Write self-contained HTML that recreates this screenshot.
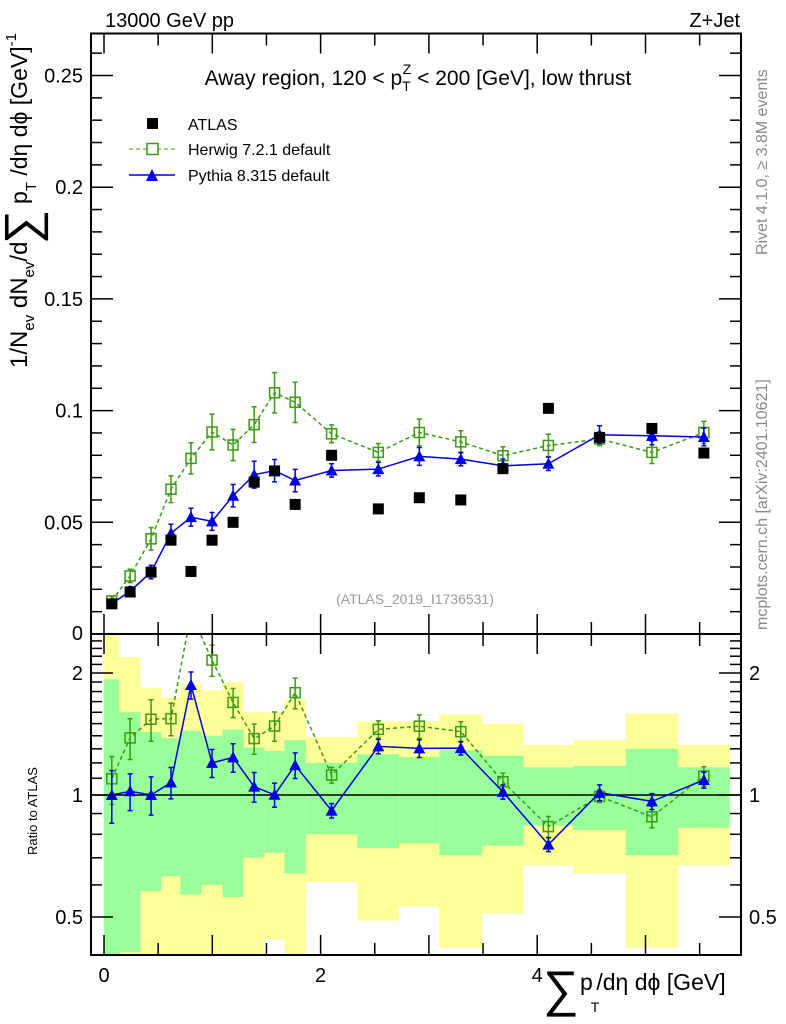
<!DOCTYPE html>
<html><head><meta charset="utf-8"><style>
body{margin:0;background:#fff;}
svg{display:block;font-family:"Liberation Sans",sans-serif;}
</style></head><body>
<svg id="c" width="786" height="1024" viewBox="0 0 786 1024" xmlns="http://www.w3.org/2000/svg">
<g id="bands"></g>
<g id="marks"></g>
<rect x="91" y="33.5" width="650" height="600.5" fill="none" stroke="#000" stroke-width="2"/>
<rect x="91" y="634" width="650" height="321" fill="none" stroke="#000" stroke-width="2"/>
<g id="axes"></g>
<text x="105" y="27" font-size="20">13000 GeV pp</text>
<text x="740" y="27" font-size="20" text-anchor="end">Z+Jet</text>
<text x="418" y="85" font-size="21" text-anchor="middle">Away region, 120 &lt; p<tspan font-size="14" dy="6">T</tspan><tspan font-size="14" dx="-8" dy="-17">Z</tspan><tspan dy="11"> &lt; 200 [GeV], low thrust</tspan></text>
<g>
<rect x="147" y="118" width="11" height="11" fill="#000"/>
<text x="188" y="130" font-size="16">ATLAS</text>
<line x1="129" y1="149" x2="175" y2="149" stroke="#3a9a10" stroke-dasharray="4,3"/>
<rect x="147" y="143.5" width="11" height="11" fill="#fff" stroke="#3a9a10" stroke-width="1.5"/>
<text x="188" y="155" font-size="16">Herwig 7.2.1 default</text>
<line x1="129" y1="175" x2="175" y2="175" stroke="#0000e0" stroke-width="1.5"/>
<polygon points="146,181 158,181 152,169" fill="#0000e0"/>
<text x="188" y="181" font-size="16">Pythia 8.315 default</text>
</g>
<text x="415" y="604" font-size="14" fill="#999" text-anchor="middle">(ATLAS_2019_I1736531)</text>
<text transform="translate(767,255) rotate(-90)" font-size="16" fill="#888">Rivet 4.1.0, ≥ 3.8M events</text>
<text transform="translate(767,630) rotate(-90)" font-size="16" fill="#888">mcplots.cern.ch [arXiv:2401.10621]</text>
<g transform="translate(27,368) rotate(-90)" font-size="24">
<text x="0" y="0">1/N<tspan font-size="15" dy="7">ev</tspan><tspan dy="-7"> dN</tspan><tspan font-size="15" dy="7">ev</tspan><tspan dy="-7">/d</tspan></text>
<text x="124" y="11" font-size="48">∑</text>
<text x="164" y="0" font-size="23">p<tspan font-size="15" dy="9">T</tspan><tspan dy="-9"> /dη dϕ [GeV]</tspan><tspan font-size="15" dy="-11">-1</tspan></text>
</g>
<text transform="translate(37,855) rotate(-90)" font-size="13">Ratio to ATLAS</text>
<text x="543" y="1006" font-size="50">∑</text>
<text x="580" y="990" font-size="23">p<tspan font-size="14" dy="22" dx="-2">T</tspan><tspan dy="-22" dx="-3">/dη dϕ [GeV]</tspan></text>
</svg>
<script>
const binEdges=[0,0.144,0.338,0.531,0.706,0.900,1.095,1.289,1.484,1.666,1.864,2.339,2.727,3.096,3.493,3.874,4.333,4.818,5.300,5.778];
const atlas=[0.0135,0.0188,0.0277,0.042,0.028,0.042,0.050,0.068,0.073,0.058,0.080,0.056,0.061,0.060,0.074,0.101,0.088,0.092,0.081];
const herwig=[0.0148,0.026,0.0426,0.0648,0.0786,0.0904,0.0846,0.0937,0.108,0.1037,0.0896,0.0813,0.0902,0.086,0.0798,0.0844,0.0873,0.0813,0.0902];
const herwigErr=[0.002,0.003,0.005,0.006,0.007,0.008,0.007,0.008,0.009,0.009,0.004,0.004,0.006,0.005,0.004,0.005,0.003,0.005,0.005];
const pythia=[0.0135,0.0192,0.0277,0.0451,0.0523,0.0504,0.0619,0.0713,0.0731,0.0687,0.0732,0.0738,0.0795,0.0783,0.0753,0.0762,0.0892,0.0887,0.0882];
const pythiaErr=[0.002,0.002,0.003,0.004,0.004,0.004,0.005,0.006,0.005,0.005,0.003,0.003,0.004,0.003,0.003,0.003,0.004,0.004,0.004];
const yellowHi=[2.6,2.19,1.84,1.74,1.88,1.81,1.90,1.60,1.60,1.72,1.39,1.52,1.52,1.58,1.50,1.33,1.365,1.59,1.33];
const greenHi=[1.93,1.60,1.43,1.38,1.44,1.40,1.45,1.31,1.285,1.365,1.20,1.26,1.24,1.29,1.25,1.17,1.18,1.30,1.17];
const greenLo=[0.38,0.41,0.579,0.63,0.568,0.60,0.56,0.70,0.72,0.64,0.80,0.74,0.76,0.71,0.75,0.84,0.82,0.71,0.83];
const yellowLo=[0.38,0.38,0.38,0.38,0.38,0.38,0.38,0.38,0.44,0.38,0.61,0.49,0.53,0.42,0.51,0.67,0.64,0.42,0.67];
const mainTicks=["0.05","0.1","0.15","0.2","0.25"];
const xTickLabels=["0","2","4"];
const ratioTickLabels=["0.5","1","2"];

const NS="http://www.w3.org/2000/svg";
const L=91,R=741,T=33.5,M=634,B=955;
const X=v=>104+v*108.3;
const Y=v=>634-v*2234;
const RY=r=>795-122*Math.log2(r);
const clampR=y=>Math.max(M,Math.min(B,y));
function mk(tag,parent,attrs){const e=document.createElementNS(NS,tag);for(const k in attrs)e.setAttribute(k,attrs[k]);parent.appendChild(e);return e;}
const bands=document.getElementById('bands'),marks=document.getElementById('marks'),axes=document.getElementById('axes');
const centers=atlas.map((_,i)=>(binEdges[i]+binEdges[i+1])/2);

for(let i=0;i<atlas.length;i++){
  const x0=X(binEdges[i]),x1=X(binEdges[i+1]);
  const y1=clampR(RY(yellowHi[i])),y2=clampR(RY(yellowLo[i]));
  const yb=mk('rect',bands,{x:x0,y:y1,width:x1-x0,height:y2-y1,fill:'#ffff99'});
  
  
  const g1=clampR(RY(greenHi[i])),g2=clampR(RY(greenLo[i]));
  const gb=mk('rect',bands,{x:x0,y:g1,width:x1-x0,height:g2-g1,fill:'#99ff99'});
  
  
}
const one=mk('line',marks,{x1:L,x2:R,y1:RY(1),y2:RY(1),stroke:'#000','stroke-width':1.5});



const defs=mk('defs',document.getElementById('c'),{});
const cp=mk('clipPath',defs,{id:'rc'});mk('rect',cp,{x:L,y:M,width:R-L,height:B-M});
const rg=mk('g',marks,{'clip-path':'url(#rc)'});



function series(vals,errs,color,dash,shape,yf,parent,name){
  const pts=vals.map((v,i)=>X(centers[i]).toFixed(1)+','+yf(v,i).toFixed(1)).join(' ');
  const pl=mk('polyline',parent,{points:pts,fill:'none',stroke:color,'stroke-width':1.5,'stroke-dasharray':dash});
  
  
  vals.forEach((v,i)=>{
    const x=X(centers[i]),y=yf(v,i),ya=yf(v+errs[i],i),yb=yf(Math.max(v-errs[i],1e-4),i);
    const e=mk('path',parent,{d:`M${x},${ya}V${yb}M${x-2.5},${ya}H${x+2.5}M${x-2.5},${yb}H${x+2.5}`,stroke:color,'stroke-width':1.5,fill:'none'});
    
    
    let m;
    if(shape==='sq') m=mk('rect',parent,{x:x-5,y:y-5,width:10,height:10,fill:'#fff','fill-opacity':0,stroke:color,'stroke-width':1.5});
    else m=mk('polygon',parent,{points:`${x-6},${y+5} ${x+6},${y+5} ${x},${y-6}`,fill:color});
    
    
  });
}
series(herwig,herwigErr,'#3a9a10','4,3','sq',v=>Y(v),marks,'herwig');
series(pythia,pythiaErr,'#0000e0','','tri',v=>Y(v),marks,'pythia');
atlas.forEach((v,i)=>{
  const r=mk('rect',marks,{x:X(centers[i])-5.5,y:Y(v)-5.5,width:11,height:11,fill:'#000'});
  
  
});
series(herwig.map((v,i)=>v/atlas[i]),herwigErr.map((e,i)=>e/atlas[i]),'#3a9a10','4,3','sq',v=>RY(Math.max(v,0.05)),rg,'herwig-ratio');
series(pythia.map((v,i)=>v/atlas[i]),pythiaErr.map((e,i)=>e/atlas[i]),'#0000e0','','tri',v=>RY(Math.max(v,0.05)),rg,'pythia-ratio');

function tl(x1,y1,x2,y2,name){const l=mk('line',axes,{x1,y1,x2,y2,stroke:'#000','stroke-width':1.5});}
for(let v=0.01;v<0.265;v+=0.01){const y=Y(v);const maj=Math.abs(v/0.05-Math.round(v/0.05))<1e-6;const len=maj?22:11;tl(L,y,L+len,y,'y-tick');tl(R,y,R-len,y,'y-tick');}
mainTicks.forEach(s=>{const t=mk('text',axes,{x:L-8,y:Y(parseFloat(s))+7,'font-size':20,'text-anchor':'end'});t.textContent=s;});
const z=mk('text',axes,{x:L-8,y:M+6,'font-size':20,'text-anchor':'end'});z.textContent='0';
for(let v=0;v<=5.9;v+=0.5){const x=X(v);const maj=Math.abs(v-Math.round(v))<1e-6;const len=maj?20:12;
  tl(x,T,x,T+len,'x-tick');tl(x,M,x,M-len,'x-tick');tl(x,M,x,M+len,'x-tick');tl(x,B,x,B-len,'x-tick');}
xTickLabels.forEach(s=>{const t=mk('text',axes,{x:X(parseFloat(s)),y:B+27,'font-size':20,'text-anchor':'middle'});t.textContent=s;});
[0.4,0.5,0.6,0.7,0.8,0.9,1,1.1,1.2,1.3,1.4,1.5,1.6,1.7,1.8,1.9,2,2.1,2.2,2.3,2.4].forEach(r=>{const y=RY(r);if(y<M||y>B)return;const maj=(r===0.5||r===1||r===2);const len=maj?22:11;tl(L,y,L+len,y,'ratio-y-tick');tl(R,y,R-len,y,'ratio-y-tick');});
ratioTickLabels.forEach(s=>{const y=RY(parseFloat(s))+7;
  const t=mk('text',axes,{x:L-8,y,'font-size':20,'text-anchor':'end'});t.textContent=s;
  const t2=mk('text',axes,{x:R+8,y,'font-size':20});t2.textContent=s;});
</script>
</body></html>
